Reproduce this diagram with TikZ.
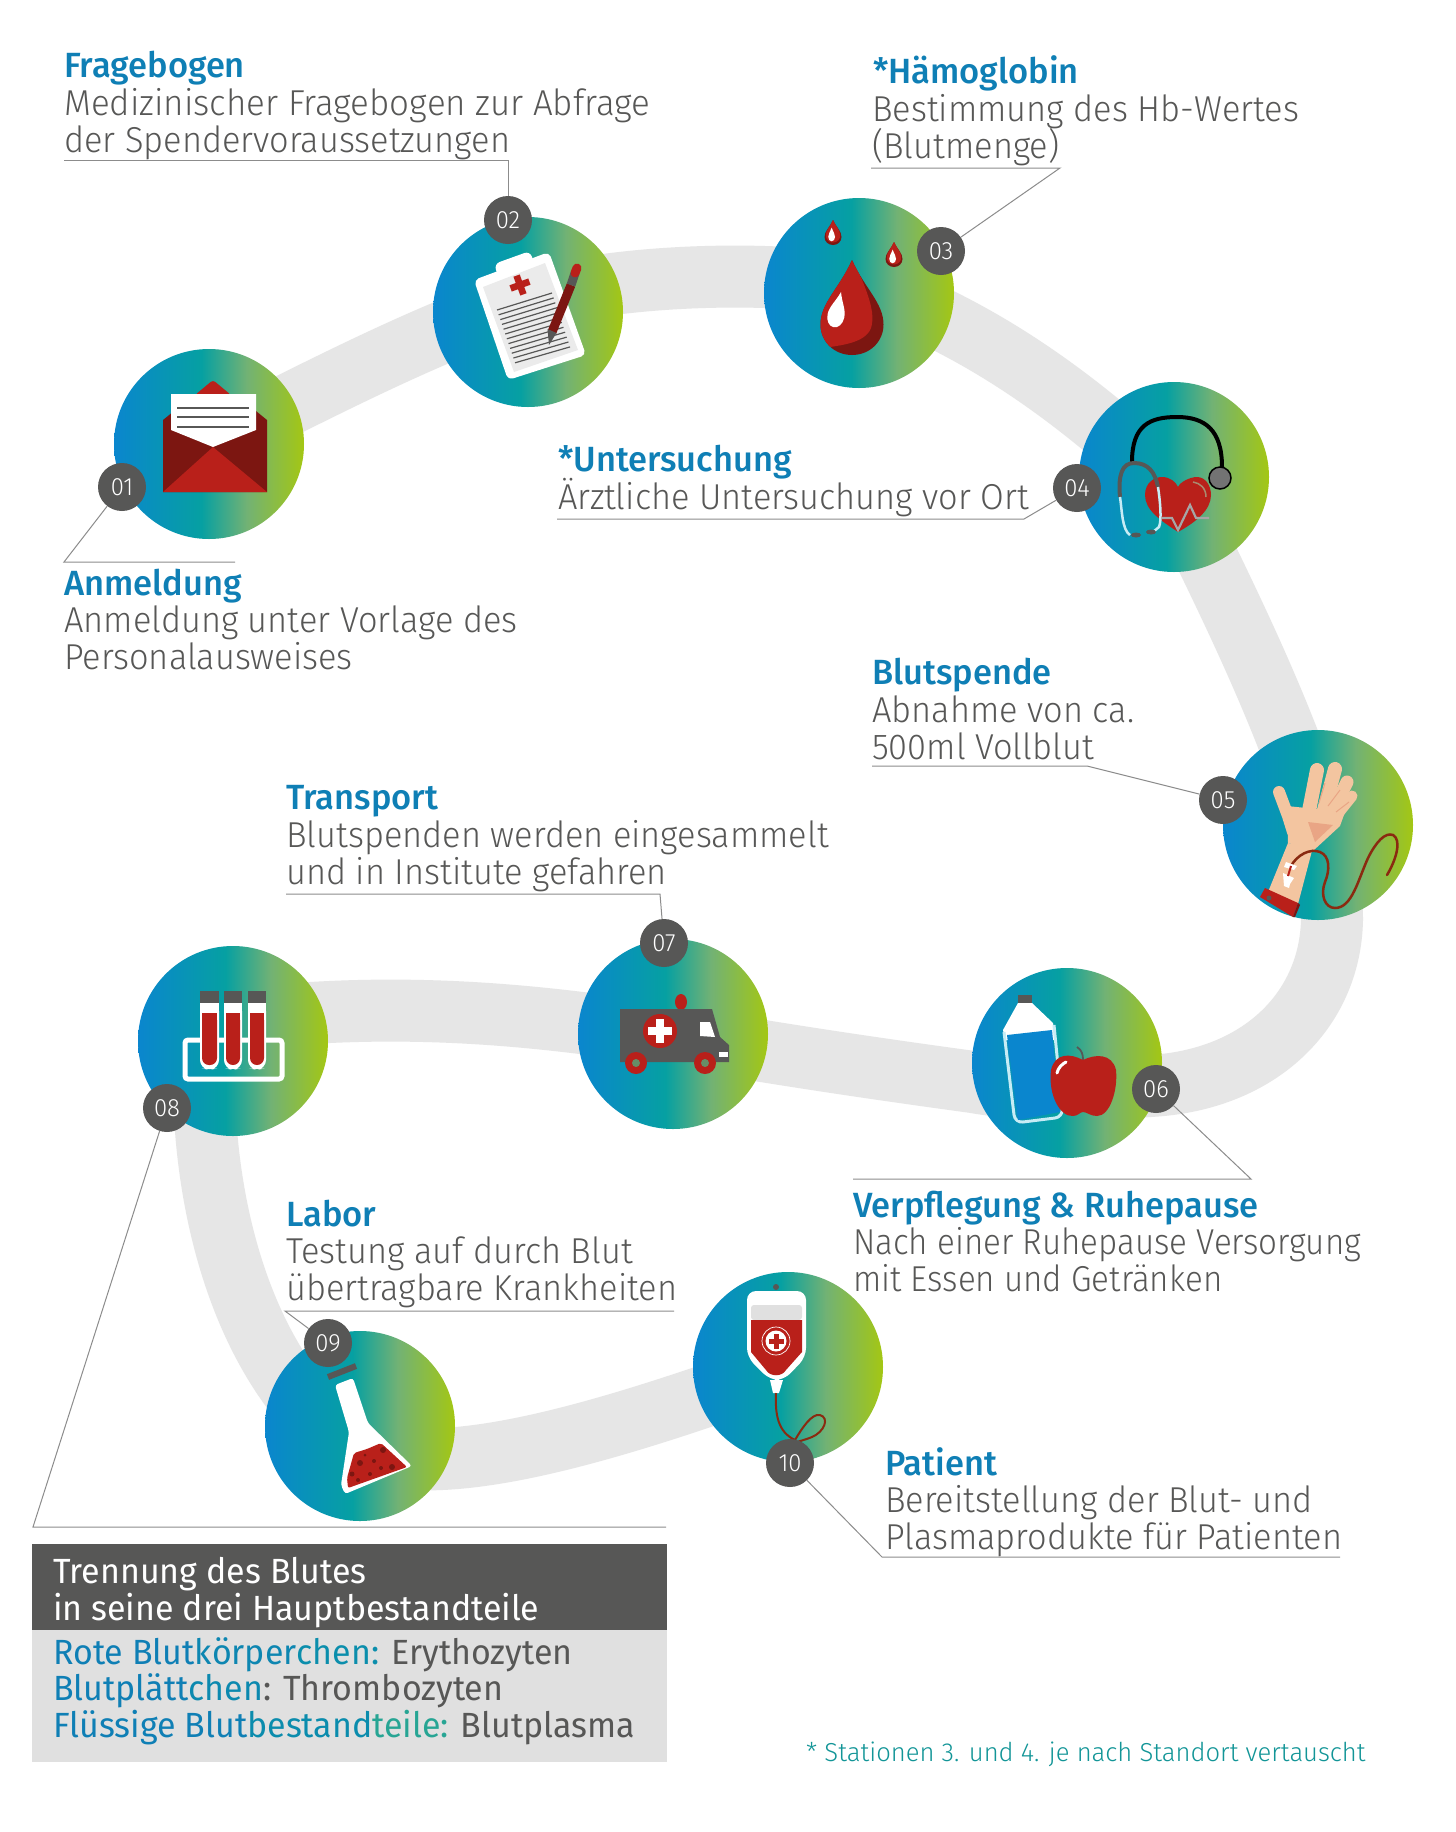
\documentclass[tikz,border=0pt]{standalone}
\usepackage{fontspec}
\newfontfamily\lightf[FakeStretch=0.955]{Fira Sans Light}
\newfontfamily\lightwide[FakeStretch=0.97]{Fira Sans Light}
\newfontfamily\lightnarrow[FakeStretch=0.92]{Fira Sans Light}
\newfontfamily\footf[FakeStretch=0.985]{Fira Sans Light}
\newfontfamily\medf[FakeStretch=0.985]{Fira Sans Medium}
\newfontfamily\regf[FakeStretch=0.97]{Fira Sans}
\definecolor{gA}{HTML}{0A86CE}
\definecolor{gB}{HTML}{06A0A2}
\definecolor{gC}{HTML}{72B274}
\definecolor{gD}{HTML}{A4C713}
\definecolor{band}{HTML}{E6E6E6}
\definecolor{dgrey}{HTML}{575756}
\definecolor{lgrey}{HTML}{E0E0E0}
\definecolor{head}{HTML}{0F7FB5}
\definecolor{bred}{HTML}{B9201A}
\definecolor{dred}{HTML}{7C1611}
\definecolor{skin}{HTML}{F3C5A0}
\definecolor{skind}{HTML}{E9A585}
\definecolor{tube}{HTML}{8A2A10}
\definecolor{ice}{HTML}{C7ECF5}
\pgfdeclarehorizontalshading{stepgrad}{100bp}{color(0bp)=(gA); color(25bp)=(gA); color(48bp)=(gB); color(60bp)=(gC); color(75bp)=(gD); color(100bp)=(gD)}
\tikzset{
  x=1pt,y=-1pt,
  stepcircle/.style={circle,minimum size=190pt,inner sep=0pt,shading=stepgrad},
  badge/.style={circle,fill=dgrey,minimum size=48pt,inner sep=0pt,text=white,font=\lightf\fontsize{25}{25}\selectfont},
  leader/.style={draw=black!45,line width=1pt},
  headtxt/.style={anchor=base west,inner sep=0pt,text=head,font=\medf\fontsize{35}{37}\selectfont},
  bodytxt/.style={anchor=base west,inner sep=0pt,text=dgrey,font=\lightf\fontsize{36}{37}\selectfont},
  bodywide/.style={bodytxt,font=\lightwide\fontsize{36}{37}\selectfont},
  bodynarrow/.style={bodytxt,font=\lightnarrow\fontsize{36}{37}\selectfont},
  boxhead/.style={anchor=base west,inner sep=0pt,text=white,font=\regf\fontsize{35}{37}\selectfont},
  boxbody/.style={anchor=base west,inner sep=0pt,text=dgrey,font=\regf\fontsize{35}{37}\selectfont},
  foot/.style={anchor=base west,inner sep=0pt,text=gB!85!dgrey,font=\footf\fontsize{26}{28}\selectfont},
}
\newcommand{\dropshape}{(0,0) .. controls (.2,.3) and (.5,.45) .. (.5,.68) .. controls (.5,.86) and (.28,1) .. (0,1) .. controls (-.28,1) and (-.5,.86) .. (-.5,.68) .. controls (-.5,.45) and (-.2,.3) .. (0,0) -- cycle}
\newcommand{\crossat}[5]{\begin{scope}[shift={(#1,#2)},rotate=#4]
  \fill[#5] (-#3,-#3/3) rectangle (#3,#3/3);
  \fill[#5] (-#3/3,-#3) rectangle (#3/3,#3);
\end{scope}}
\begin{document}
\begin{tikzpicture}
\useasboundingbox (0,0) rectangle (1456,1832);
\fill[white] (0,0) rectangle (1456,1832);
% band
\draw[band,line width=62pt] (209,444) .. controls (300,400) and (420,335) .. (528,300) .. controls (620,275) and (760,270) .. (859,285) .. controls (960,320) and (1060,380) .. (1174,490) .. controls (1212,570) and (1280,700) .. (1318,825) .. controls (1330,860) and (1332,890) .. (1332,920) .. controls (1330,1010) and (1260,1080) .. (1150,1086) .. controls (1090,1090) and (1030,1092) .. (973,1082) .. controls (900,1072) and (800,1058) .. (673,1036) .. controls (540,1015) and (400,1000) .. (233,1020);
\draw[band,line width=62pt] (204,1060) .. controls (201,1190) and (235,1345) .. (330,1432) .. controls (400,1490) and (560,1450) .. (788,1367);
% circles
\node[stepcircle] (c1) at (209,444) {};
\node[stepcircle] (c2) at (528,312) {};
\node[stepcircle] (c3) at (859,293) {};
\node[stepcircle] (c4) at (1174,477) {};
\node[stepcircle] (c5) at (1318,825) {};
\node[stepcircle] (c6) at (1067,1063) {};
\node[stepcircle] (c7) at (673,1034) {};
\node[stepcircle] (c8) at (233,1041) {};
\node[stepcircle] (c9) at (360,1426) {};
\node[stepcircle] (c10) at (788,1367) {};
% envelope
\fill[bred,rounded corners=3pt] (195,395) -- (213,380) -- (231,395) -- (231,410) -- (195,410) -- cycle;
\fill[dred] (163,420) -- (190,398) -- (240,398) -- (267,420) -- (267,492) -- (163,492) -- cycle;
\fill[white] (171,394) -- (256,394) -- (256,430) -- (213,447) -- (171,430) -- cycle;
\foreach \yy in {408,417,427} \draw[dgrey,line width=2.4pt] (177,\yy) -- (249,\yy);
\fill[bred] (163,492) -- (213,447) -- (267,492) -- cycle;
% clipboard
\fill[white,rounded corners=5pt] (474,280) -- (549,252) -- (586,355) -- (508,380) -- cycle;
\fill[black!8] (483,287) -- (545,263) -- (578,350) -- (514,372) -- cycle;
\fill[white,rounded corners=6pt] (494,264) -- (530,251) -- (535,266) -- (499,279) -- cycle;
\crossat{520}{285}{10}{20}{bred}
\foreach \i in {0,...,11} \draw[dgrey,line width=1.2pt] ({497+\i*1.64},{310+\i*4.8}) -- ({552+\i*1.64},{293+\i*4.9});
\draw[dred,line width=9pt] (552,332) -- (571,285);
\draw[dgrey,line width=9pt] (571,285) -- (575,273);
\draw[bred,line width=9pt,line cap=round] (575,273) -- (577,268);
\fill[dgrey] (547.5,329) -- (556.5,333) -- (549,345) -- cycle;
% drops
\begin{scope}[shift={(852,260)},xscale=63,yscale=95]
  \fill[dred] \dropshape;
  \begin{scope}
    \clip \dropshape;
    \fill[bred] (.03,.0) .. controls (.25,.35) and (.38,.55) .. (.3,.72) .. controls (.2,.88) and (-.2,.9) .. (-.5,.93) -- (-.6,0) -- cycle;
  \end{scope}
\end{scope}
\begin{scope}[shift={(841,292)},rotate=-12,xscale=17,yscale=36]
  \fill[white] \dropshape;
\end{scope}
\begin{scope}[shift={(833,220)},xscale=17,yscale=25]
  \fill[dred] \dropshape;
  \begin{scope}[xscale=.85,yscale=.9]\fill[bred] \dropshape;\end{scope}
  \begin{scope}[shift={(-.08,.3)},xscale=.4,yscale=.55]\fill[white] \dropshape;\end{scope}
\end{scope}
\begin{scope}[shift={(894,242)},xscale=17,yscale=25]
  \fill[dred] \dropshape;
  \begin{scope}[xscale=.85,yscale=.9]\fill[bred] \dropshape;\end{scope}
  \begin{scope}[shift={(-.08,.3)},xscale=.4,yscale=.55]\fill[white] \dropshape;\end{scope}
\end{scope}
% stethoscope
\draw[black,line width=4pt] (1132,462) .. controls (1132,425) and (1150,417) .. (1177,417) .. controls (1205,417) and (1222,430) .. (1222,467);
\fill[bred] (1178,532) .. controls (1160,520) and (1145,510) .. (1145,495) .. controls (1145,482) and (1155,477) .. (1162,477) .. controls (1170,477) and (1176,482) .. (1178,487) .. controls (1180,482) and (1190,477) .. (1197,477) .. controls (1205,477) and (1211,485) .. (1211,495) .. controls (1211,510) and (1196,522) .. (1178,532) -- cycle;
\draw[black!30!skin,line width=1.5pt] (1193,482) .. controls (1200,483) and (1206,488) .. (1206,497);
\draw[black!35,line width=2.2pt] (1162,518) -- (1172,518) -- (1178,530) -- (1190,505) -- (1196,518) -- (1209,518);
\draw[dgrey,line width=4pt] (1120,497) .. controls (1118,475) and (1122,463) .. (1134,463) .. controls (1148,463) and (1155,472) .. (1158,487);
\draw[ice,line width=2.5pt] (1120,497) .. controls (1122,510) and (1122,530) .. (1130,535);
\draw[ice,line width=2.5pt] (1158,487) .. controls (1160,500) and (1162,520) .. (1159,527) -- (1153,532);
\fill[dgrey] (1136,535) ellipse (5pt and 2.5pt);
\fill[dgrey] (1151,532) ellipse (5pt and 2.5pt);
\draw[black,line width=1.5pt,fill=black!55] (1220,478) circle (11pt);
% arm
\fill[skin] (1268,892) -- (1298,904) -- (1313,847) -- (1288,843) -- cycle;
\fill[skin] (1287,806) -- (1345,812) -- (1340,826) -- (1314,850) -- (1288,843) -- cycle;
\draw[skin,line width=11pt,line cap=round] (1352,796) -- (1336,816);
\draw[skin,line width=13pt,line cap=round] (1347,782) -- (1331,814);
\draw[skin,line width=14pt,line cap=round] (1335,769) -- (1323,814);
\draw[skin,line width=14pt,line cap=round] (1317,770) -- (1308,816);
\draw[skin,line width=12pt,line cap=round] (1279,792) -- (1288,816) -- (1293,832);
\draw[skind,line width=1pt] (1325,783) -- (1319,803);
\draw[skind,line width=1pt] (1340,790) -- (1328,806);
\draw[skind,line width=1pt] (1349,802) -- (1336,812);
\fill[skind] (1308,822) -- (1333,825) -- (1315,842) -- cycle;
\fill[bred] (1265,888) -- (1298,903) -- (1293,917) -- (1260,897) -- cycle;
\fill[dred] (1298,903) -- (1300,905) -- (1295,917) -- (1293,917) -- cycle;
\fill[dgrey] (1269,898) circle (2.5pt);
\draw[tube,line width=2.5pt,line cap=round] (1291,866) .. controls (1297,855) and (1310,848) .. (1320,852) .. controls (1330,856) and (1330,870) .. (1325,882) .. controls (1320,895) and (1325,908) .. (1335,908) .. controls (1352,908) and (1358,880) .. (1368,858) .. controls (1376,842) and (1385,832) .. (1393,835) .. controls (1402,840) and (1396,860) .. (1387,875);
\fill[white] (1286,862) -- (1297,866) -- (1294,870) -- (1284,867) -- cycle;
\fill[white] (1283,873) -- (1294,878) -- (1290,884) -- (1289,888) -- (1284,886) -- cycle;
\draw[bred,line width=2pt] (1291,866) -- (1288,876);
% bottle
\fill[dgrey] (1018,995) rectangle (1032,1003);
\fill[white] (1018,1003) -- (1032,1003) -- (1053,1023) -- (1056,1040) -- (1005,1040) -- (1003,1030) -- cycle;
\draw[ice,line width=3pt,rounded corners=8pt] (1004,1032) -- (1015,1123) -- (1063,1117) -- (1054,1025);
\fill[gA] (1007,1035) -- (1052,1030) -- (1060,1112) -- (1018,1120) -- cycle;
% apple
\draw[dgrey,line width=1.8pt] (1077,1047) .. controls (1082,1050) and (1083,1055) .. (1083,1060);
\fill[bred] (1083,1060) .. controls (1070,1053) and (1055,1053) .. (1051,1070) .. controls (1048,1095) and (1060,1117) .. (1073,1116) .. controls (1078,1116) and (1080,1112) .. (1083,1112) .. controls (1087,1112) and (1090,1116) .. (1097,1116) .. controls (1110,1116) and (1118,1090) .. (1116,1070) .. controls (1112,1053) and (1095,1054) .. (1083,1060) -- cycle;
\draw[white,line width=3pt,line cap=round] (1057,1073) .. controls (1058,1068) and (1062,1064) .. (1066,1062);
% test tubes
\draw[white,line width=5pt,rounded corners=3pt] (185,1040) rectangle (282,1079);
\foreach \xa/\xb in {200/219,224/242,248/266}{
  \fill[white,rounded corners=8pt] (\xa,1003) -- (\xa,1068) -- ({(\xa+\xb)/2},1070) -- (\xb,1068) -- (\xb,1003) -- cycle;
  \fill[white] (\xa,1003) rectangle (\xb,1030);
  \fill[dgrey] (\xa,991) rectangle (\xb,1003);
  \fill[bred,rounded corners=7pt] ({\xa+2},1013) -- ({\xa+2},1065) -- ({\xb-2},1065) -- ({\xb-2},1013) -- cycle;
  \fill[bred] ({\xa+2},1013) rectangle ({\xb-2},1030);
}
% ambulance
\fill[bred] (681,1002) ellipse (6pt and 8pt);
\fill[dgrey] (620,1009) -- (712,1009) -- (720,1037) -- (729,1045) -- (729,1062) -- (620,1062) -- cycle;
\fill[white] (700,1022) -- (710,1022) -- (715,1037) -- (700,1036) -- cycle;
\fill[white] (719,1052) rectangle (728,1057);
\fill[bred] (660,1031) circle (17pt);
\crossat{660}{1031}{12}{0}{white}
\foreach \xx in {636,705}{
  \fill[bred] (\xx,1063) circle (11pt);
  \fill[gC!60!dgrey] (\xx,1063) circle (4pt);
}
% flask
\fill[white,rounded corners=3pt] (335,1385) -- (353,1378) -- (368,1423) -- (412,1466) -- (345,1494) -- (341,1485) -- (349,1432) -- cycle;
\draw[dgrey,line width=6pt] (328,1377) -- (356,1366);
\fill[bred,rounded corners=2pt] (354,1453) -- (367,1449) -- (381,1443) -- (407,1467) -- (348,1488) -- (347,1478) -- cycle;
\foreach \xa/\ya/\ra in {383/1450/3,374/1461/2,360/1463/3,352/1474/2.5,370/1474/2,392/1467/3,381/1468/2,358/1480/2,365/1455/1.5}
  \fill[dred] (\xa,\ya) circle (\ra pt);
% blood bag
\fill[dgrey] (776,1287) circle (3pt);
\fill[white,rounded corners=9pt] (747,1291) -- (806,1291) -- (806,1357) -- (784,1380) -- (770,1380) -- (747,1357) -- cycle;
\fill[lgrey,rounded corners=3pt] (751,1305) -- (802,1305) -- (802,1320) -- (751,1320) -- cycle;
\fill[bred] (751,1320) -- (802,1320) -- (802,1352) -- (786,1370) .. controls (782,1377) and (770,1377) .. (766,1370) -- (751,1352) -- cycle;
\fill[white] (770,1380) -- (783,1380) -- (779,1393) -- (773,1393) -- cycle;
\draw[white,line width=.7pt] (776,1341) circle (14pt);
\fill[white] (776,1341) circle (10.5pt);
\crossat{776}{1341}{7.5}{0}{bred}
\draw[tube,line width=2pt] (776,1393) .. controls (775,1415) and (778,1432) .. (795,1440) .. controls (802,1428) and (812,1413) .. (820,1415) .. controls (830,1418) and (824,1432) .. (812,1437) .. controls (805,1440) and (795,1442) .. (790,1445);
% leader coordinates
\coordinate (l1a) at (64,562); \coordinate (l1b) at (235,562);
\coordinate (l2a) at (508,160); \coordinate (l2b) at (64,160);
\coordinate (l3a) at (1060,168); \coordinate (l3b) at (871,168);
\coordinate (l4a) at (1024,519); \coordinate (l4b) at (557,519);
\coordinate (l5a) at (1087,766); \coordinate (l5b) at (872,766);
\coordinate (l6a) at (1251,1179); \coordinate (l6b) at (853,1179);
\coordinate (l7a) at (660,894); \coordinate (l7b) at (286,894);
\coordinate (l8a) at (33,1527); \coordinate (l8b) at (666,1527);
\coordinate (l9a) at (285,1311); \coordinate (l9b) at (674,1311);
\coordinate (l10a) at (882,1557); \coordinate (l10b) at (1340,1557);
% badges
\node[badge] (b1) at (122,487) {01};
\node[badge] (b2) at (508,220) {02};
\node[badge] (b3) at (941,251) {03};
\node[badge] (b4) at (1077,488) {04};
\node[badge] (b5) at (1223,800) {05};
\node[badge] (b6) at (1156,1089) {06};
\node[badge] (b7) at (664,943) {07};
\node[badge] (b8) at (167,1108) {08};
\node[badge] (b9) at (328,1343) {09};
\node[badge] (b10) at (790,1463) {10};
\draw[leader] (b1) -- (l1a) -- (l1b);
\draw[leader] (b2) -- (l2a) -- (l2b);
\draw[leader] (b3) -- (l3a) -- (l3b);
\draw[leader] (b4) -- (l4a) -- (l4b);
\draw[leader] (b5) -- (l5a) -- (l5b);
\draw[leader] (b6) -- (l6a) -- (l6b);
\draw[leader] (b7) -- (l7a) -- (l7b);
\draw[leader] (b8) -- (l8a) -- (l8b);
\draw[leader] (b9) -- (l9a) -- (l9b);
\draw[leader] (b10) -- (l10a) -- (l10b);
% texts
\node[headtxt] (t2a) at (64,77) {Fragebogen};
\node[bodywide] (t2b) at (64,115) {Medizinischer Fragebogen zur Abfrage};
\node[bodytxt] (t2c) at (64,152) {der Spendervoraussetzungen};
\node[headtxt] (t3a) at (873,83) {*Hämoglobin};
\node[bodytxt] (t3b) at (872,121) {Bestimmung des Hb-Wertes};
\node[bodytxt] (t3c) at (872,158) {(Blutmenge)};
\node[headtxt] (t4a) at (558,471) {*Untersuchung};
\node[bodytxt] (t4b) at (558,509) {Ärztliche Untersuchung vor Ort};
\node[headtxt] (t1a) at (64,595) {Anmeldung};
\node[bodytxt] (t1b) at (64,632) {Anmeldung unter Vorlage des};
\node[bodytxt] (t1c) at (64,669) {Personalausweises};
\node[headtxt] (t5a) at (872,684) {Blutspende};
\node[bodytxt] (t5b) at (872,722) {Abnahme von ca.};
\node[bodytxt] (t5c) at (872,759) {500ml Vollblut};
\node[headtxt] (t7a) at (286,809) {Transport};
\node[bodytxt] (t7b) at (286,847) {Blutspenden werden eingesammelt};
\node[bodytxt] (t7c) at (286,884) {und in Institute gefahren};
\node[headtxt] (t6a) at (853,1217) {Verpflegung \& Ruhepause};
\node[bodynarrow] (t6b) at (853,1254) {Nach einer Ruhepause Versorgung};
\node[bodynarrow] (t6c) at (853,1291) {mit Essen und Getränken};
\node[headtxt] (t9a) at (286,1226) {Labor};
\node[bodytxt] (t9b) at (286,1263) {Testung auf durch Blut};
\node[bodytxt] (t9c) at (286,1300) {übertragbare Krankheiten};
\node[headtxt] (t10a) at (885,1475) {Patient};
\node[bodytxt] (t10b) at (885,1512) {Bereitstellung der Blut- und};
\node[bodytxt] (t10c) at (885,1549) {Plasmaprodukte für Patienten};
% box
\fill[dgrey] (32,1544) rectangle (667,1630);
\fill[lgrey] (32,1630) rectangle (667,1762);
\node[boxhead] (h1) at (53,1583) {Trennung des Blutes};
\node[boxhead] (h2) at (53,1620) {in seine drei Hauptbestandteile};
\node[boxbody] (r1) at (53,1664) {\textcolor{head}{Rote Blut}\textcolor{head!80!gB}{körper}\textcolor{head!55!gB}{chen:} Erythozyten};
\node[boxbody] (r2) at (53,1700) {\textcolor{head}{Blutplätt}\textcolor{head!70!gB}{chen}: Thrombozyten};
\node[boxbody] (r3) at (53,1737) {\textcolor{head}{Flüssige Blut}\textcolor{head!60!gB}{bestand}\textcolor{gB!70!gC}{teile:} Blutplasma};
\node[foot] (fn) at (806,1761) {* Stationen 3. und 4. je nach Standort vertauscht};
\end{tikzpicture}
\end{document}
